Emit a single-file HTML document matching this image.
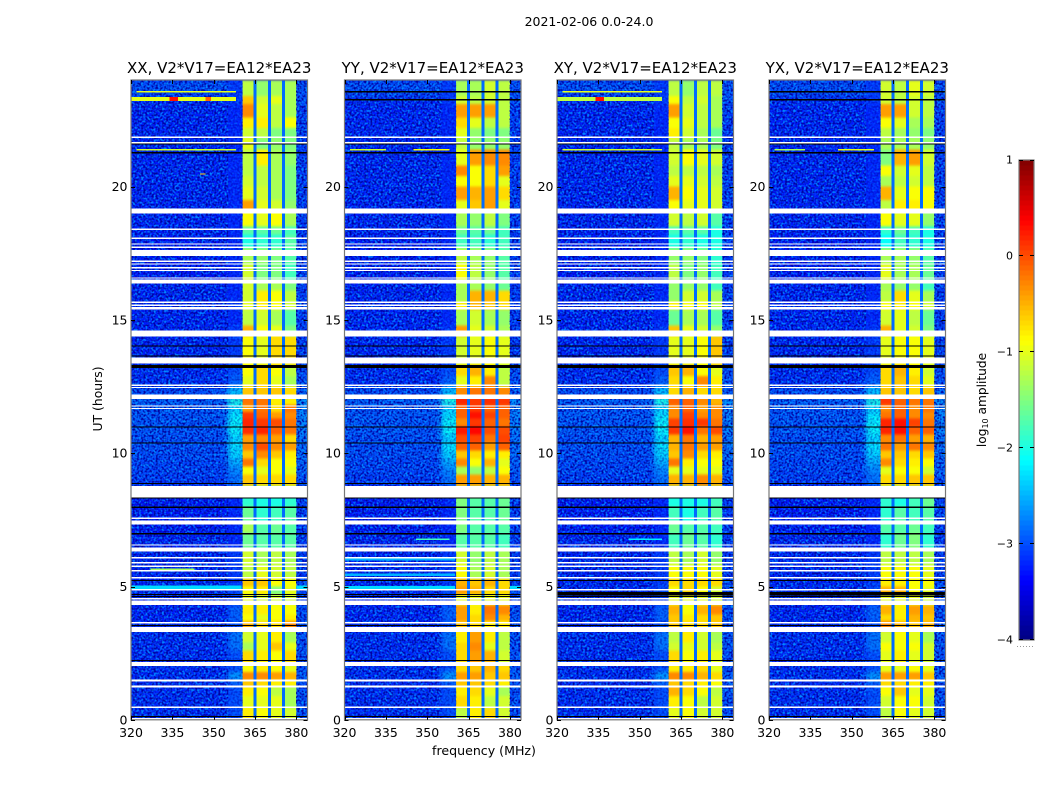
<!DOCTYPE html>
<html>
<head>
<meta charset="utf-8">
<title>2021-02-06 0.0-24.0</title>
<style>
html,body{margin:0;padding:0;background:#fff;}
svg{display:block;}
text{font-family:"DejaVu Sans","Liberation Sans",sans-serif;fill:#000;}
</style>
</head>
<body>
<svg id="figure" xmlns="http://www.w3.org/2000/svg" width="1050" height="800" viewBox="0 0 1050 800">
  <defs>
    <filter id="speckle" x="0" y="0" width="1" height="1" color-interpolation-filters="sRGB">
      <feTurbulence type="fractalNoise" baseFrequency="0.48" numOctaves="1" seed="7" result="n"/>
      <feColorMatrix in="n" values="0 0 0 0 0  0 0 0 0 0.55  0 0 0 0 1  3.4 0 0 0 -1.45" result="light"/>
      <feColorMatrix in="n" values="0 0 0 0 0  0 0 0 0 0  0 0 0 0 0.62  0 3.4 0 0 -1.45" result="dark"/>
      <feMerge><feMergeNode in="light"/><feMergeNode in="dark"/></feMerge>
    </filter>
    <filter id="softV" x="0" y="-0.02" width="1" height="1.04" color-interpolation-filters="sRGB">
      <feGaussianBlur stdDeviation="0 1.3"/>
    </filter>
    <filter id="softHV" x="-0.05" y="-0.02" width="1.1" height="1.04" color-interpolation-filters="sRGB">
      <feGaussianBlur stdDeviation="3 2.5"/>
    </filter>
  </defs>
  <text x="589" y="26" font-size="12.5" text-anchor="middle">2021-02-06 0.0-24.0</text>
  <text x="484" y="755" font-size="12.6" text-anchor="middle">frequency (MHz)</text>
  <text x="0" y="0" font-size="12.4" text-anchor="middle" transform="translate(102 399) rotate(-90)">UT (hours)</text>
  <g id="panels"></g>
  <g id="colorbar"></g>
  <text x="0" y="0" font-size="12.2" text-anchor="middle" transform="translate(986 400) rotate(-90)">log<tspan font-size="8" dy="2">10</tspan><tspan dy="-2"> amplitude</tspan></text>
  <line x1="1017" y1="646.5" x2="1035" y2="646.5" stroke="#999" stroke-width="1" stroke-dasharray="1 2"/>
</svg>
<script>
// ---- chart data (log10 amplitude; hours UT; MHz) ----
const panelTitles = ["XX, V2*V17=EA12*EA23", "YY, V2*V17=EA12*EA23", "XY, V2*V17=EA12*EA23", "YX, V2*V17=EA12*EA23"];
const xTickLabels = [320, 335, 350, 365, 380];
const yTickLabels = [0, 5, 10, 15, 20];
const colorbarTicks = [1, 0, -1, -2, -3, -4];
const utEdges = [0,.45,.9,1.25,1.5,1.8,2.1,2.6,2.9,3.35,3.7,3.95,4.3,4.7,5,5.3,5.8,6.4,7,7.4,8,8.75,9.2,9.5,9.8,10.1,10.4,10.7,11,11.3,11.55,11.8,12.1,12.5,12.9,13.3,14.4,14.8,15.4,15.7,16.1,16.5,17.1,17.7,18.2,18.5,19.1,19.5,20,20.4,20.8,21.4,21.8,22.2,22.6,23.1,23.4,24];
// window levels per time row: [360-365, 365-370, 370-375, 375-380]
const xxWindows = [[-.8,-.9,-1,-1.1],[-1,-1,-1,-1.3],[-.8,-.9,-1.2,-1.3],[-.6,-.7,-.8,-.8],[-.3,-.3,-.4,-.5],[-.9,-.8,-.9,-1],[-.7,-.8,-.9,-.7],[-1.3,-1,-.6,-1],[-1.1,-1,-.8,-1.3],[-.5,-.7,-.7,-.3],[-.9,-1,-.9,-.8],[-.8,-.8,-.9,-.9],[-1,-1.1,-1.1,-1.1],[-.9,-.8,-1.5,-1],[-.6,-.6,-.9,-.9],[-1.2,-1,-1.1,-1.2],[-1.1,-1.3,-1.2,-1.3],[-1.6,-1.7,-1.7,-1.7],[-1.3,-1.7,-1.6,-1.7],[-1.6,-1.9,-1.8,-1.7],[-1.9,-2,-2,-1.9],[-.6,-.7,-.7,-.7],[-.9,-1,-.9,-1],[-.2,-.7,-.9,-.9],[-.6,-.3,-.6,-.8],[-.3,0,-.3,-.4],[-.4,-.3,-.4,-.7],[.15,.2,-.1,-.2],[.2,.1,0,-.2],[.1,-.1,-.4,-.3],[-.4,-.2,-.7,-.2],[-.2,-.2,-.8,-.8],[-.6,-.6,-.6,-.7],[-1,-.7,-1,-1.3],[-.9,-.7,-.9,-1.2],[-.9,-1,-.7,-.7],[-.5,-.9,-1,-1.5],[-1.2,-1.1,-1.3,-1.7],[-1,-.8,-.9,-1.1],[-1.1,-.8,-.9,-1.2],[-1.1,-1.3,-1.3,-1.5],[-1.1,-1.5,-1.5,-1.8],[-1.3,-1.4,-1.5,-1.7],[-2,-1.9,-1.9,-1.7],[-1.7,-1.7,-1.6,-1.8],[-.9,-1,-.9,-1.3],[-.4,-1,-1.1,-1.4],[-1,-1.1,-1.3,-1.5],[-1.1,-1.2,-1.3,-1.5],[-1.2,-1.2,-1.3,-1.5],[-1.2,-.8,-1.3,-1.4],[-1,-1.5,-1.4,-1.5],[-1.1,-1.2,-1.5,-1.5],[-.8,-.8,-1.2,-.9],[-.3,-1,-1.2,-1.3],[-.6,-1.1,-1,-1.3],[-1.2,-1.4,-1.3,-1.3]];
const yyWindows = [[-1.2,-.8,-.7,-1.1],[-.7,-.8,-1.2,-1.1],[-.8,-.7,-1,-1.3],[-.6,-.6,-.7,-.8],[-.4,-.4,-.6,-.6],[-.7,-.6,-.5,-.7],[-.7,-.4,-.5,-1.1],[-.7,-.3,-1,-1.2],[-.8,-.4,-.8,-1.2],[-.6,-.7,-.8,-.8],[-.4,-.7,-.3,-.5],[-.4,-.8,-.2,-.3],[-1,-1,-1,-1],[-.4,-.5,-.7,-.7],[-.5,-.6,-.5,-.7],[-.9,-1.3,-1.1,-1.3],[-1.1,-1.4,-1.2,-1.3],[-1.7,-1.7,-1.7,-1.8],[-1.5,-1.7,-1.7,-1.7],[-1.5,-1.7,-1.7,-1.6],[-1.5,-1.7,-1.7,-1.6],[-.4,-.4,-.5,-.5],[-1.3,-1.4,-1.2,-.9],[-.3,-.9,-.5,-1],[-.6,-.7,-.8,-.8],[-.1,-.1,-.4,-.1],[0,.05,-.2,.05],[.25,.35,0,0],[-.3,.1,-.1,-.2],[-.1,.3,.05,-.1],[-.1,.1,-.1,-.1],[.2,.1,.15,.1],[-.3,-.2,-.2,-.3],[-1,-.8,-.3,-1.2],[-.7,-.5,-.8,-1.2],[-1.1,-1,-.9,-1],[-.4,-1,-1.1,-1.3],[-1.3,-1.1,-1.3,-1.4],[-.8,-.5,-.6,-.7],[-1.3,-.5,-.5,-.7],[-1.3,-1.3,-1.4,-1.6],[-.9,-1.2,-1.4,-1.7],[-1.2,-1.3,-1.4,-1.7],[-1.8,-1.8,-1.9,-1.8],[-1.6,-1.7,-1.6,-1.8],[-1.3,-1.4,-1.2,-1.5],[-1,-.6,-.4,-1],[-.4,-.5,-.4,-.7],[-.9,-.9,-.7,-1],[-.3,-.9,-.7,-.4],[-1,-.4,-.3,-.3],[-1.2,-1.4,-1.4,-1.4],[-1,-1.4,-1.5,-1.5],[-.7,-1,-1.2,-1.2],[-.4,-.4,-.4,-1.2],[-1.1,-1.2,-1.1,-1.2],[-1.3,-1.3,-1.1,-1.2]];
const xyWindows = [[-1,-.9,-1.1,-1.1],[-.8,-.9,-1.2,-1.1],[-.5,-.7,-.9,-1.2],[-.6,-.7,-.8,-.9],[-.3,-.3,-.5,-.7],[-.8,-.8,-.7,-1],[-.7,-.9,-.8,-1],[-1.1,-1,-1.1,-1.2],[-1.2,-.8,-1.1,-1.3],[-.6,-.7,-.7,-.6],[-.6,-.8,-.7,-.6],[-.5,-.9,-.5,-.3],[-1,-1,-1,-1.1],[-.9,-.7,-.9,-1.1],[-.7,-.7,-.7,-.7],[-.9,-.9,-.9,-1],[-1.2,-1.3,-1.1,-1.4],[-1.8,-1.6,-1.7,-1.9],[-1.6,-1.7,-1.7,-1.8],[-1.8,-2,-1.8,-1.7],[-2,-2,-2,-1.8],[-.5,-.5,-.3,-.5],[-1,-1,-1,-1],[-.2,-.8,-.9,-.9],[-.6,-.3,-.7,-.8],[-.5,-.2,-.4,-.4],[-.5,-.2,-.5,-.4],[.1,.3,-.2,0],[.05,.15,.1,-.2],[-.3,.05,-.3,-.3],[-.3,-.1,-.4,-.3],[-.1,-.1,-.3,-.5],[-.7,-.5,-.7,-.7],[-.7,-.9,-.3,-.8],[-.6,-.5,-.9,-1],[-1,-1,-.9,-.6],[-.6,-1,-1.1,-1.4],[-1.6,-1.3,-1.3,-1.7],[-.8,-.9,-.9,-1.2],[-1.4,-1.1,-1.1,-1.3],[-1.4,-1.4,-1.4,-1.8],[-1.2,-1.5,-1.4,-1.8],[-1.4,-1.4,-1.5,-1.9],[-2,-1.9,-2,-2],[-1.8,-1.7,-1.7,-2],[-1.1,-1.2,-1.1,-1.7],[-.9,-1,-1,-1.1],[-.5,-.9,-1,-1.1],[-1,-1,-1.1,-1.2],[-1.2,-1.2,-1.2,-1.3],[-1.1,-.9,-1,-1.1],[-1.2,-1.3,-1.3,-1.5],[-.8,-1.1,-1.3,-1.6],[-.9,-1,-1.2,-1.3],[-.4,-1.1,-1.2,-1.3],[-.9,-1.2,-1.1,-1.3],[-1.2,-1.4,-1.2,-1.2]];
const yxWindows = [[-1.2,-.9,-1,-1.1],[-1.1,-.9,-.9,-1.1],[-.9,-.6,-1,-1],[-.7,-.7,-.8,-.8],[-.4,-.4,-.4,-.6],[-1,-1,-.9,-1],[-1,-.8,-1,-1.1],[-.9,-.9,-.9,-1.1],[-1.1,-.9,-1,-1.3],[-.3,-.5,-.6,-.5],[-.7,-.8,-.5,-.6],[-.5,-.8,-.4,-.5],[-1,-1,-1,-1.1],[-.5,-.5,-.9,-1],[-.8,-.8,-.9,-.9],[-.9,-.9,-.9,-1],[-1.2,-1.2,-1.2,-1.3],[-1.9,-1.6,-1.5,-1.9],[-1.7,-1.7,-1.6,-1.8],[-1.9,-1.7,-1.8,-1.7],[-1.9,-2,-1.8,-1.6],[-.7,-.7,-.6,-.6],[-1,-.9,-.9,-1.1],[-.3,-.7,-.8,-.9],[-.6,-.6,-.7,-.6],[-.2,-.4,-.2,-.3],[-.3,-.2,-.4,-.5],[.2,.3,-.1,-.1],[.2,.3,.05,-.2],[-.2,-.1,-.3,-.3],[-.3,-.1,-.3,-.2],[.1,-.1,-.2,-.2],[-.6,-.6,-.7,-.6],[-.7,-.6,-.7,-1],[-.7,-.5,-.8,-1.1],[-1,-.9,-.9,-1],[-.5,-1,-1.1,-1.5],[-1.1,-1,-1.2,-1.6],[-.9,-.8,-.9,-1.1],[-1.2,-.7,-1,-1.3],[-1.3,-1.4,-1.4,-1.8],[-1,-1.3,-1.3,-1.6],[-1.3,-1.3,-1.4,-1.7],[-2.1,-1.8,-1.9,-2],[-1.9,-1.6,-1.8,-2],[-.9,-1,-1,-1.4],[-1.2,-.8,-.8,-.9],[-.5,-1,-.9,-.9],[-1.3,-1.2,-1.1,-1.2],[-.9,-1.1,-1,-1.2],[-1.5,-.5,-.4,-1.1],[-1.3,-1.3,-1.3,-1.4],[-1.2,-1.3,-1.4,-1.5],[-.9,-1,-1.3,-1.3],[-.4,-.4,-1.1,-1.2],[-1.1,-1.2,-1.1,-1.2],[-1.1,-1.2,-1,-1.1]];
const panelWindows = [xxWindows, yyWindows, xyWindows, yxWindows];
const backgroundLevels = [-3.2,-3.2,-3.2,-3.2,-3.2,-3.2,-3.2,-3.2,-3.2,-3.2,-3.25,-3.25,-3.25,-3.2,-3.25,-3.25,-3.25,-3.25,-3.3,-3.3,-3.3,-3.1,-3.05,-3.05,-3,-3,-3,-2.95,-2.95,-2.95,-2.95,-2.9,-3,-3.2,-3.2,-3.25,-3.25,-3.25,-3.25,-3.25,-3.25,-3.3,-3.3,-3.3,-3.25,-3.25,-3.25,-3.25,-3.25,-3.25,-3.25,-3.25,-3.25,-3.25,-3.25,-3.2,-3];
const edgeLevels = [-3,-3,-3,-2.9,-2.6,-3,-3,-2.8,-2.8,-3,-2.9,-2.9,-3.1,-3,-3.1,-3.1,-3.1,-3.2,-3.2,-3.2,-3.2,-2.8,-2.7,-2.5,-2.3,-2.2,-2.3,-2.1,-2.1,-2.2,-2.3,-2,-2.4,-2.9,-3,-3.1,-3.1,-3.2,-3.1,-3.2,-3.2,-3.2,-3.2,-3.2,-3.2,-3.2,-3.2,-3.2,-3.2,-3.2,-3.2,-3.2,-3.2,-3.2,-3.2,-3.1,-3.1];
const rightLevels = [-3,-3,-3,-3,-2.9,-3,-3,-3,-3,-3,-3,-3,-3.1,-3,-3,-3.1,-3.1,-3.1,-3.1,-3.1,-3.1,-3,-2.9,-2.9,-2.8,-2.8,-2.8,-2.7,-2.7,-2.7,-2.7,-2.6,-2.9,-3,-3,-3.1,-3.1,-3.1,-3.1,-3.1,-3.1,-3.1,-3.1,-3.1,-3.1,-3.1,-3.1,-3.1,-3.1,-3.1,-3.1,-3.1,-3.1,-3.1,-3.1,-3,-3];
const gapChannelLevel = [-2.85];
// flagged (white) and dead (black) time ranges
const flaggedRanges = [[.02,.07],[.44,.49],[1.21,1.28],[1.44,1.51],[2.02,2.16],[3.29,3.48],[3.61,3.66],[4.3,4.48],[4.52,4.57],[4.86,4.9],[5.31,5.35],[5.57,5.62],[5.73,5.78],[5.87,5.92],[6.06,6.11],[6.32,6.46],[6.53,6.58],[7.33,7.48],[7.54,7.59],[8.34,8.77],[11.65,11.7],[11.75,11.79],[12.03,12.2],[12.44,12.49],[12.53,12.58],[13.37,13.59],[14.38,14.6],[15.39,15.49],[15.53,15.58],[15.64,15.69],[16.37,16.52],[16.55,16.6],[16.84,16.88],[16.94,16.98],[17.07,17.12],[17.18,17.23],[17.39,17.63],[17.71,17.75],[17.82,17.87],[18.04,18.09],[18.38,18.43],[18.99,19.18],[21.62,21.68],[21.83,21.88]];
const deadRanges = [[.1,.14],[2.2,2.24],[3.51,3.55],[4.61,4.65],[4.68,4.72],[5.2,5.24],[6.96,7],[7.95,8.01],[8.3,8.34],[8.84,8.88],[10.37,10.41],[10.97,11.01],[13.19,13.3],[13.62,13.66],[14.01,14.05],[21.25,21.29],[21.58,21.61]];
const xxDead = [];
const yyDead = [[23.54,23.58],[23.24,23.28]];
const xyDead = [[4.66,4.8]];
const yxDead = [[4.66,4.8],[23.54,23.58],[23.24,23.28]];
const panelDead = [xxDead, yyDead, xyDead, yxDead];
// narrow-band interference streaks per panel: [utLow, utHigh, freqLow, freqHigh, level]
const xxStreaks = [[23.22,23.36,320,358,-1],[23.22,23.36,334,337,.3],[23.22,23.36,347,349,-.1],[23.54,23.58,322,358,-1],[21.36,21.41,322,358,-1.1],[20.45,20.5,345,347,-.6],[4.88,5.04,320,360,-2.3],[4.88,5.04,380,384,-2.3],[5.62,5.67,327,343,-1.3]];
const yyStreaks = [[21.36,21.41,322,335,-1.1],[21.36,21.41,345,358,-.9],[4.88,5.02,320,360,-2.3],[4.88,5.02,380,384,-2.3],[6.75,6.8,346,358,-1.8],[5.98,6.06,320,360,-2.5],[5.4,5.48,320,360,-2.5]];
const xyStreaks = [[23.22,23.36,320,358,-1.2],[23.22,23.36,334,337,.3],[23.54,23.58,322,358,-1],[21.36,21.41,322,358,-1.1],[5.56,5.6,326,336,-1.3],[6.75,6.8,346,358,-2.2]];
const yxStreaks = [[21.36,21.41,322,333,-1.3],[21.36,21.41,345,358,-1]];
const panelStreaks = [xxStreaks, yyStreaks, xyStreaks, yxStreaks];

// ---- layout ----
const SVGNS = "http://www.w3.org/2000/svg";
const plotLeft = [131, 344.5, 557, 769];
const plotWidth = 176.5, plotTop = 80, plotBottom = 719.8;
const freqMin = 320, freqMax = 384, utMin = 0, utMax = 24;
const bandEdges = {bgFrom: 320, bgTo: 355, edgeTo: 360.5, windows: [[360.5,364.7],[365.5,369.8],[370.6,374.9],[375.7,380]], gaps: [[364.5,365.5],[369.7,370.7],[374.8,375.8]], rightTo: 384};

function jet(t){
  t = Math.max(0, Math.min(1, t));
  const ch = c => Math.round(255 * Math.max(0, Math.min(1, 1.5 - Math.abs(4 * t - c))));
  return "rgb(" + ch(3) + "," + ch(2) + "," + ch(1) + ")";
}
function levelColor(v){ return jet((v + 4) / 5); }
function make(tag, attrs, parent){
  const el = document.createElementNS(SVGNS, tag);
  for (const k in attrs) el.setAttribute(k, attrs[k]);
  parent.appendChild(el);
  return el;
}

const defsEl = document.querySelector("#figure defs");
const panelsRoot = document.getElementById("panels");
panelTitles.forEach(function(title, p){
  const left = plotLeft[p];
  const xOf = f => left + (f - freqMin) / (freqMax - freqMin) * plotWidth;
  const yOf = u => plotBottom - (u - utMin) / (utMax - utMin) * (plotBottom - plotTop);
  const g = make("g", {}, panelsRoot);
  
  

  const clip = make("clipPath", {id: "clip" + p}, defsEl);
  make("rect", {x: left, y: plotTop, width: plotWidth, height: plotBottom - plotTop}, clip);
  const clipped = make("g", {"clip-path": "url(#clip" + p + ")"}, g);
  
  

  make("rect", {x: left, y: plotTop, width: plotWidth, height: plotBottom - plotTop, fill: levelColor(backgroundLevels[0])}, clipped);
  const softCells = make("g", {filter: "url(#softHV)", "shape-rendering": "crispEdges"}, clipped);
  
  
  const cells = make("g", {filter: "url(#softV)", "shape-rendering": "crispEdges"}, clipped);
  
  

  function cell(parent, f0, f1, u0, u1, level){
    const r = make("rect", {x: xOf(f0), y: yOf(u1), width: xOf(f1) - xOf(f0), height: yOf(u0) - yOf(u1), fill: levelColor(level)}, parent);
    
    
    return r;
  }

  for (let i = 0; i < utEdges.length - 1; i++){
    const u0 = utEdges[i], u1 = utEdges[i + 1];
    cell(softCells, bandEdges.bgFrom - 4, bandEdges.bgTo, u0, u1, backgroundLevels[i]);
    cell(softCells, bandEdges.bgTo, bandEdges.edgeTo + 2, u0, u1, edgeLevels[i]);
    cell(softCells, bandEdges.windows[3][1] - .5, bandEdges.rightTo + 3, u0, u1, rightLevels[i]);
    bandEdges.windows.forEach(function(b, w){ cell(cells, b[0], b[1], u0, u1, panelWindows[p][i][w]); });
    bandEdges.gaps.forEach(function(b){ cell(cells, b[0], b[1], u0, u1, gapChannelLevel[0]); });
  }

  // fine grain over the noise-only parts of the band (decorative texture, not data)
  const tex1 = make("rect", {x: xOf(320), y: plotTop, width: xOf(bandEdges.bgTo) - xOf(320), height: plotBottom - plotTop, filter: "url(#speckle)"}, clipped);
  
  
  const tex3 = make("rect", {x: xOf(bandEdges.bgTo), y: plotTop, width: xOf(bandEdges.edgeTo) - xOf(bandEdges.bgTo), height: plotBottom - plotTop, filter: "url(#speckle)", opacity: .45}, clipped);
  
  
  const tex2 = make("rect", {x: xOf(380), y: plotTop, width: xOf(384) - xOf(380), height: plotBottom - plotTop, filter: "url(#speckle)"}, clipped);
  
  

  const overlay = make("g", {"shape-rendering": "crispEdges"}, g);
  
  
  panelStreaks[p].forEach(function(s){ cell(overlay, s[2], s[3], s[0], s[1], s[4]); });
  flaggedRanges.forEach(function(r){
    const b = make("rect", {x: left, y: yOf(r[1]), width: plotWidth, height: Math.max(1.2, yOf(r[0]) - yOf(r[1])), fill: "#fff"}, overlay);
    
    
  });
  deadRanges.concat(panelDead[p]).forEach(function(r){
    const b = make("rect", {x: left, y: yOf(r[1]), width: plotWidth, height: Math.max(1, yOf(r[0]) - yOf(r[1])), fill: "#000"}, overlay);
    
    
  });

  // frame
  const frame = make("rect", {x: left, y: plotTop, width: plotWidth, height: plotBottom - plotTop, fill: "none", stroke: "#777", "stroke-width": 1.2}, g);
  
  

  // x ticks
  xTickLabels.forEach(function(f){
    const x = Math.round(xOf(f)) + .5;
    const t1 = make("line", {x1: x, x2: x, y1: plotBottom, y2: plotBottom - 4, stroke: "#000"}, g);
    
    
    const t2 = make("line", {x1: x, x2: x, y1: plotTop, y2: plotTop + 4, stroke: "#000"}, g);
    
    
    const lab = make("text", {x: xOf(f), y: 737, "font-size": 12.5, "text-anchor": "middle"}, g);
    
    
    lab.textContent = f;
  });
  // y ticks
  yTickLabels.forEach(function(u){
    const y = Math.round(yOf(u)) + .5;
    const t1 = make("line", {x1: left, x2: left + 4, y1: y, y2: y, stroke: "#000"}, g);
    
    
    const t2 = make("line", {x1: left + plotWidth, x2: left + plotWidth - 4, y1: y, y2: y, stroke: "#000"}, g);
    
    
    const lab = make("text", {x: left - 3.5, y: yOf(u) + 4.5, "font-size": 12.5, "text-anchor": "end"}, g);
    
    
    lab.textContent = u;
  });
  // title
  const tt = make("text", {x: left + plotWidth / 2, y: 73, "font-size": 15, "text-anchor": "middle"}, g);
  
  
  tt.textContent = title;
});

// ---- colour bar ----
const cb = document.getElementById("colorbar");
const cbLeft = 1019, cbRight = 1034, cbTop = 160, cbBottom = 640, cbMin = -4, cbMax = 1;
const cbY = v => cbBottom - (v - cbMin) / (cbMax - cbMin) * (cbBottom - cbTop);
const cbSteps = 96;
const cbFill = make("g", {"shape-rendering": "crispEdges"}, cb);


for (let i = 0; i < cbSteps; i++){
  const v0 = cbMin + (cbMax - cbMin) * i / cbSteps, v1 = cbMin + (cbMax - cbMin) * (i + 1) / cbSteps;
  const r = make("rect", {x: cbLeft, y: cbY(v1), width: cbRight - cbLeft, height: cbY(v0) - cbY(v1) + .5, fill: levelColor((v0 + v1) / 2)}, cbFill);
  
  
}
const cbFrame = make("rect", {x: cbLeft, y: cbTop, width: cbRight - cbLeft, height: cbBottom - cbTop, fill: "none", stroke: "#777", "stroke-width": 1.2}, cb);


colorbarTicks.forEach(function(v){
  const y = Math.round(cbY(v)) + (v === cbMax ? .5 : -.5);
  const t1 = make("line", {x1: cbLeft, x2: cbLeft + 4, y1: y, y2: y, stroke: "#000"}, cb);
  
  
  const t2 = make("line", {x1: cbRight, x2: cbRight - 4, y1: y, y2: y, stroke: "#000"}, cb);
  
  
  const lab = make("text", {x: cbLeft - 6, y: cbY(v) + 3.5, "font-size": 11, "text-anchor": "end"}, cb);
  
  
  lab.textContent = v < 0 ? "\u2212" + Math.abs(v) : String(v);
});
</script>
</body>
</html>
